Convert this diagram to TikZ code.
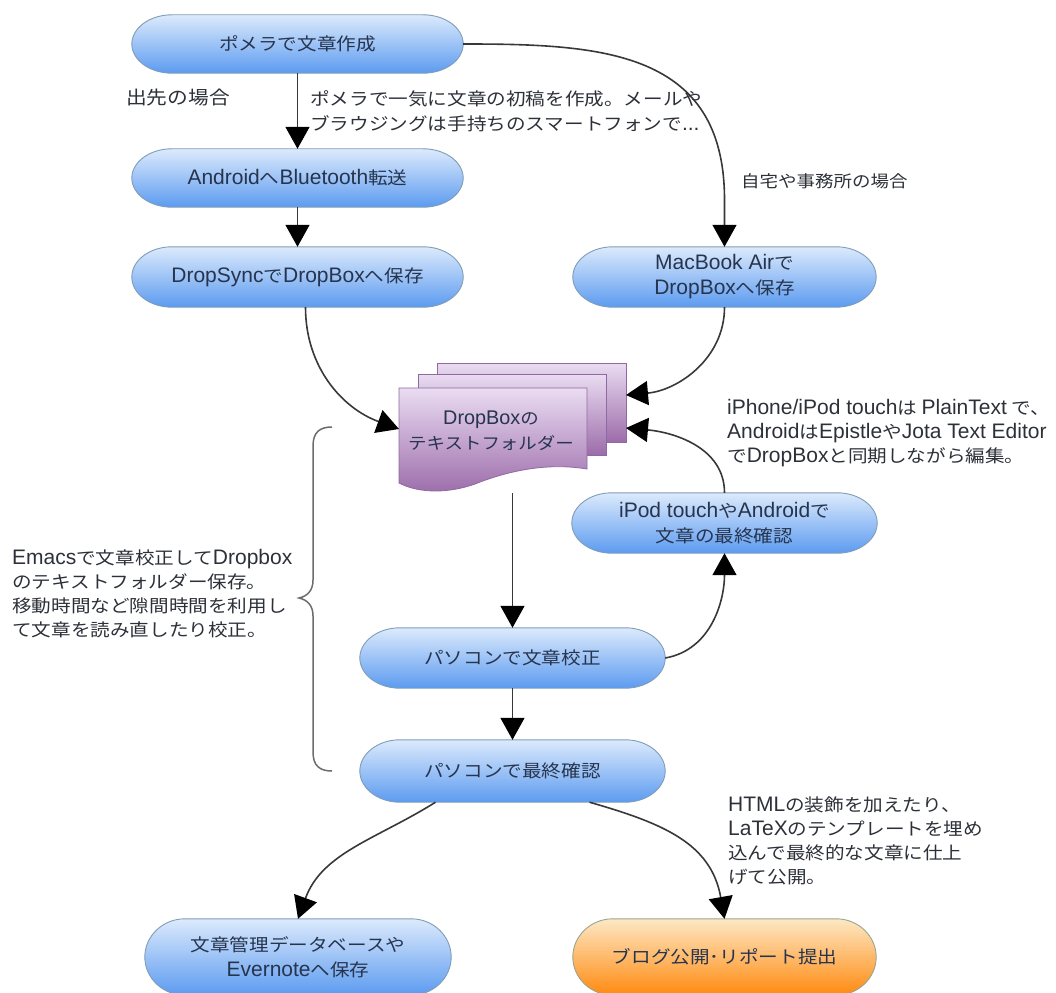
\documentclass[tikz,border=0pt]{standalone}
\usepackage{fontspec}
\setmainfont[FakeStretch=1.12]{Noto Sans CJK JP}
\newfontfamily\latf[Scale=1.2]{Liberation Sans}
\newcommand{\la}[1]{{\latf #1}}
\usetikzlibrary{arrows.meta,calc,backgrounds}
\definecolor{linec}{HTML}{383838}
\definecolor{pilledge}{HTML}{7F9DB8}
\definecolor{txt}{HTML}{2C3038}
\definecolor{pilltxt}{HTML}{26344E}
\definecolor{blueTop}{HTML}{DCEAFC}
\definecolor{blueBot}{HTML}{5C9BF0}
\definecolor{orTop}{HTML}{FDE8C4}
\definecolor{orBot}{HTML}{FF8A10}
\definecolor{orEdge}{HTML}{9AA58F}
\definecolor{pTop}{HTML}{EADCF2}
\definecolor{pBot}{HTML}{9C6CAA}
\definecolor{sheetEdge}{HTML}{8E6AA0}
\tikzset{
  x=1pt,y=-1pt,
  pill/.style={rectangle,minimum width=#1,minimum height=60pt,inner sep=0pt,align=center,
    font=\fontsize{17.5}{25}\selectfont,text=pilltxt},
  bluefill/.style={draw=pilledge,line width=0.9pt,top color=blueTop,bottom color=blueBot},
  orangefill/.style={draw=orEdge,line width=0.9pt,top color=orTop,bottom color=orBot},
  note/.style={inner sep=0pt,align=left,anchor=north west,font=\fontsize{17.5}{24}\selectfont,text=txt},
  conn/.style={draw=linec,line width=1.6pt,-{Triangle[length=22pt,width=24pt,fill=black,color=black]}},
  brace/.style={draw=gray!85!black,line width=1.5pt},
  sheet/.style={draw=sheetEdge,line width=0.8pt,top color=pTop,bottom color=pBot},
}
\newcommand{\pillbg}[2]{%
  \path[#2] (#1.west)
   .. controls ($(#1.west)!0.55!(#1.north west)$) and ($(#1.north west)+(18,0)$) .. ($(#1.north west)+(40,0)$)
   -- ($(#1.north east)+(-40,0)$)
   .. controls ($(#1.north east)+(-18,0)$) and ($(#1.east)!0.55!(#1.north east)$) .. (#1.east)
   .. controls ($(#1.east)!0.55!(#1.south east)$) and ($(#1.south east)+(-18,0)$) .. ($(#1.south east)+(-40,0)$)
   -- ($(#1.south west)+(40,0)$)
   .. controls ($(#1.south west)+(18,0)$) and ($(#1.west)!0.55!(#1.south west)$) .. (#1.west) -- cycle;}
\begin{document}
\begin{tikzpicture}
\clip (0,0) rectangle (1056,992);
\useasboundingbox (0,0) rectangle (1056,992);
% nodes
\node[pill=331pt,minimum height=58pt] (p1) at (297.5,44) {ポメラで文章作成};
\node[pill=331pt,minimum height=58pt] (p2) at (297.5,178) {\la{Android}へ\la{Bluetooth}転送};
\node[pill=331pt,minimum height=60pt] (p3) at (297.5,277) {\la{DropSync}で\la{DropBox}へ保存};
\node[pill=303pt] (p4) at (724.5,277) {\la{MacBook Air}で\\\la{DropBox}へ保存};
\node[pill=305pt] (p5) at (724.5,523) {\la{iPod touch}や\la{Android}で\\文章の最終確認};
\node[pill=305pt] (p6) at (512.5,658) {パソコンで文章校正};
\node[pill=305pt,minimum height=62pt] (p7) at (512.5,771) {パソコンで最終確認};
\node[pill=306pt,minimum height=76pt] (p8) at (298,957) {文章管理データベースや\\\la{Evernote}へ保存};
\node[pill=303pt,minimum height=76pt] (p9) at (724.5,957) {ブログ公開･リポート提出};
\begin{scope}[on background layer]
\pillbg{p1}{bluefill}\pillbg{p2}{bluefill}\pillbg{p3}{bluefill}\pillbg{p4}{bluefill}
\pillbg{p5}{bluefill}\pillbg{p6}{bluefill}\pillbg{p7}{bluefill}\pillbg{p8}{bluefill}
\pillbg{p9}{orangefill}
% document stack
\path[sheet] (437,363) -- (626,363) -- (626,442) -- (437,442) -- cycle;
\path[sheet] (418,374) -- (606,374) -- (606,455) -- (418,455) -- cycle;
\path[sheet] (399,388) -- (587,388) -- (587,469)
  .. controls (545,462) and (505,472) .. (475,484)
  .. controls (450,493) and (420,494) .. (399,483) -- cycle;
\end{scope}
\node[inner sep=0pt,align=center,font=\fontsize{16.5}{25}\selectfont,text=pilltxt] (doc) at (491,431) {\la{DropBox}の\\テキストフォルダー};
\coordinate (docW) at (399,429);
\coordinate (docE1) at (626,395);
\coordinate (docE2) at (626,428);
\coordinate (docS) at (512.5,493);
% connectors
\draw[conn] (p1.south) -- (p2.north);
\draw[conn] (p2.south) -- (p3.north);
\draw[conn] (p1.east) .. controls ($(p1.east)+(137,0)$) and ($(p4.north)+(0,-197)$) .. ($(p4.north)+(0,-47)$) -- (p4.north);
\draw[conn] ($(p3.south)+(8,0)$) to[out=-90,in=160,looseness=1] (docW);
\draw[conn] (p4.south) to[out=-90,in=5,looseness=1] (docE1);
\draw[conn] (p5.north) to[out=90,in=-5,looseness=1] (docE2);
\draw[conn] (docS) -- (p6.north);
\draw[conn] (p6.east) to[out=10,in=-90,looseness=1] (p5.south);
\draw[conn] (p6.south) -- (p7.north);
\draw[conn] ($(p7.south)+(-77,0)$) to[out=212,in=70,looseness=1] (p8.north);
\draw[conn] ($(p7.south)+(77,0)$) to[out=-16,in=100,looseness=1.1] (p9.north);
% brace
\coordinate (bt) at (332,427);
\coordinate (bb) at (332,771);
\coordinate (btip) at (299,598);
\draw[brace] (bt) .. controls (320,427) and (313,432) .. (313,446) -- (313,580)
  .. controls (313,590) and (308,596) .. (btip)
  .. controls (308,600) and (313,606) .. (313,616) -- (313,752)
  .. controls (313,766) and (320,771) .. (bb);
% notes
\node[note,font=\fontsize{18.5}{24}\selectfont] (n1) at (126,89) {出先の場合};
\node[note,font=\fontsize{17.5}{25}\selectfont] (n2) at (310,90) {ポメラで一気に文章の初稿を作成。メールや\\ブラウジングは手持ちのスマートフォンで\la{...}};
\node[note,font=\fontsize{16.5}{24}\selectfont] (n3) at (741,173) {自宅や事務所の場合};
\node[note] (n4) at (727,399) {\la{iPhone/iPod touch}は \la{PlainText} で、\\\la{Android}は\la{Epistle}や\la{Jota Text Editor}\\で\la{DropBox}と同期しながら編集。};
\node[note] (n5) at (12,549) {\la{Emacs}で文章校正して\la{Dropbox}\\のテキストフォルダー保存。\\移動時間など隙間時間を利用し\\て文章を読み直したり校正。};
\node[note] (n6) at (728,797) {\la{HTML}の装飾を加えたり、\\\la{LaTeX}のテンプレートを埋め\\込んで最終的な文章に仕上\\げて公開。};
\end{tikzpicture}
\end{document}
